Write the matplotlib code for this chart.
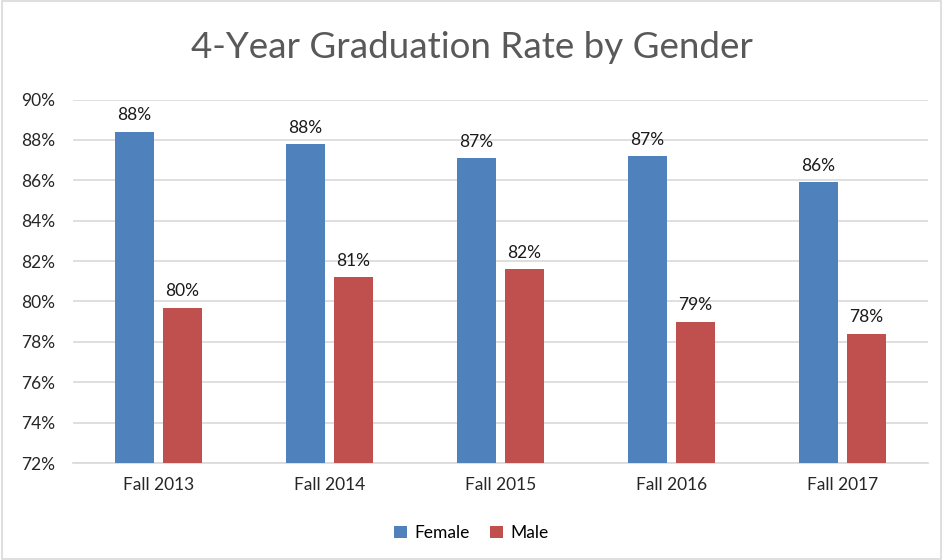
import matplotlib
matplotlib.use("Agg")
import matplotlib.pyplot as plt
import numpy as np
from matplotlib.patches import Rectangle

categories = ["Fall 2013", "Fall 2014", "Fall 2015", "Fall 2016", "Fall 2017"]
female = [88.4, 87.8, 87.1, 87.2, 85.9]
male = [79.7, 81.2, 81.6, 79.0, 78.4]
yticks = [72, 74, 76, 78, 80, 82, 84, 86, 88, 90]

plt.rcParams['font.family'] = ['Lato', 'DejaVu Sans']

fig = plt.figure(figsize=(9.43, 5.6), dpi=100)
ax = fig.add_axes([73/943, 1 - 463/560, 855/943, (463 - 99.5)/560])

x = np.arange(len(categories))
w = 0.225
off = 0.14
blue = "#4f81bd"
red = "#c0504d"
b1 = ax.bar(x - off, female, w, color=blue, label="Female", zorder=3)
b2 = ax.bar(x + off, male, w, color=red, label="Male", zorder=3)

for xi, v in zip(x - off, female):
    ax.annotate(f"{v:.0f}%", (xi, v), xytext=(0, 6), textcoords="offset points",
                ha="center", va="bottom", fontsize=12.5, color="#1a1a1a")
for xi, v in zip(x + off, male):
    ax.annotate(f"{v:.0f}%", (xi, v), xytext=(0, 6), textcoords="offset points",
                ha="center", va="bottom", fontsize=12.5, color="#1a1a1a")

ax.set_ylim(72, 90)
ax.set_xlim(-0.5, len(categories) - 0.5)
ax.set_yticks(yticks)
ax.set_yticklabels([f"{t}%" for t in yticks], fontsize=12.5, color="#262626")
ax.set_xticks(x)
ax.set_xticklabels(categories, fontsize=12.5, color="#262626")
ax.tick_params(axis="both", length=0)
ax.tick_params(axis="y", pad=13)
ax.tick_params(axis="x", pad=10)
ax.grid(axis="y", color="#d9d9d9", linewidth=1.2, zorder=0)
for s in ["top", "right", "left"]:
    ax.spines[s].set_visible(False)
ax.spines["bottom"].set_color("#d9d9d9")
ax.spines["bottom"].set_linewidth(1.2)

fig.text(0.5, 1 - 48/560, "4-Year Graduation Rate by Gender", ha="center", va="center",
         fontsize=26.5, color="#595959")

fig.legend(handles=[b1, b2], labels=["Female", "Male"], loc="center",
           bbox_to_anchor=(0.5, 1 - 533/560), ncol=2, frameon=False, fontsize=12.5,
           handlelength=0.75, handleheight=0.75, handletextpad=0.4, columnspacing=1.2)

fig.patches.append(Rectangle((0.002, 0.002), 0.996, 0.996, transform=fig.transFigure,
                             fill=False, edgecolor="#d9d9d9", linewidth=1.2))

fig.savefig("out.png", dpi=100)
